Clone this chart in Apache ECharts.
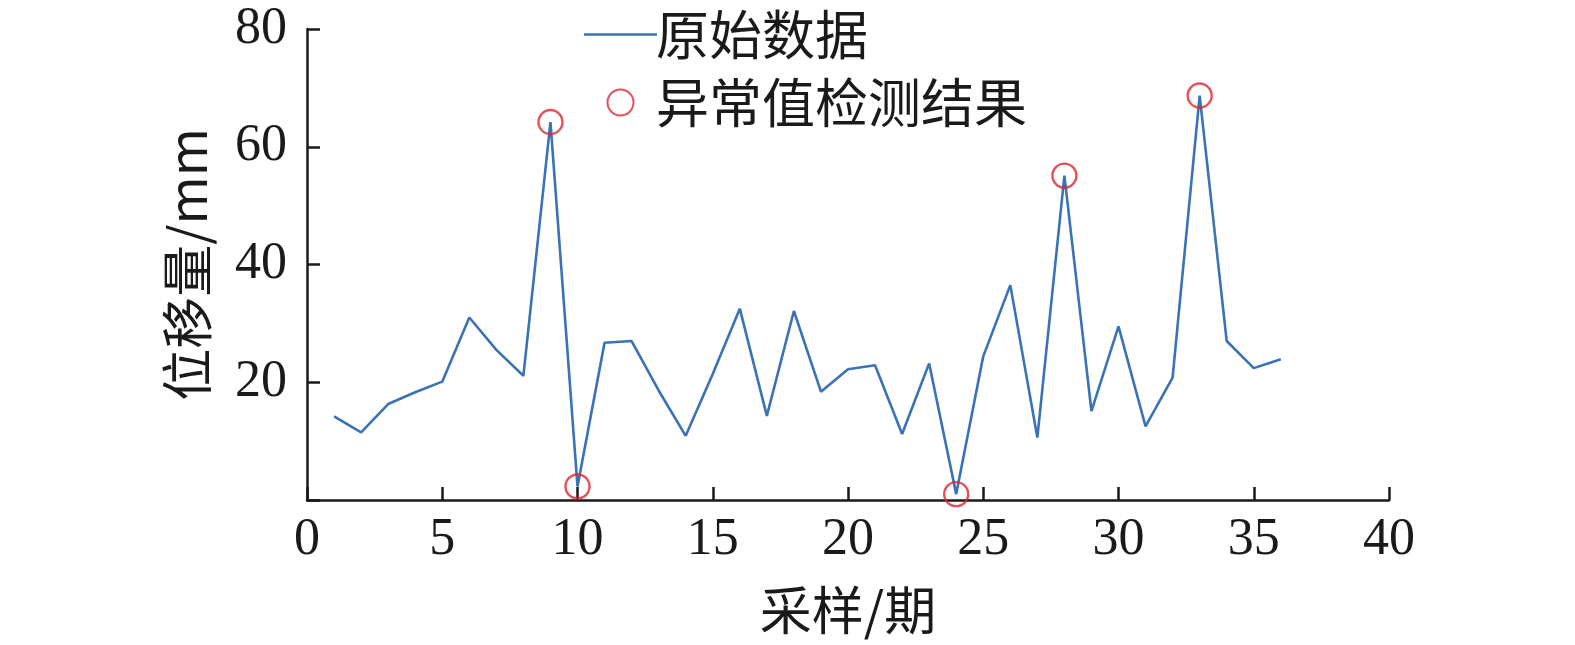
<!DOCTYPE html>
<html>
<head>
<meta charset="utf-8">
<script src="https://cdn.jsdelivr.net/npm/echarts@6/dist/echarts.min.js"></script>
<style>html,body{margin:0;padding:0;background:#fff}#c{width:1575px;height:645px}</style>
</head>
<body>
<div id="c"></div>
<script>
// Data
const samples = [1,2,3,4,5,6,7,8,9,10,11,12,13,14,15,16,17,18,19,20,21,22,23,24,25,26,27,28,29,30,31,32,33,34,35,36];
const displacement = [14.2,11.5,16.3,18.3,20.1,31.0,25.5,21.1,64.2,2.3,26.7,27.0,18.6,10.9,21.4,32.5,14.3,32.1,18.4,22.2,22.9,11.2,23.2,1.0,24.4,36.5,10.6,55.1,15.1,29.5,12.5,20.8,68.7,27.0,22.4,23.9];
const anomalySamples = [9,10,24,28,33];
const anomalyValues = [64.2,2.3,1.0,55.1,68.7];
const xTicks = [0,5,10,15,20,25,30,35,40];
const yTicks = [0,20,40,60,80];
const seriesNames = ['原始数据','异常值检测结果'];
const axisNames = {x:'采样/期', y:'位移量/mm'};

const lineData = samples.map((s,i)=>[s, displacement[i]]);
const anomalyData = anomalySamples.map((s,i)=>[s, anomalyValues[i]]);

const numFont = '"Liberation Serif", "Noto Sans CJK SC", serif';
const cjkFont = '"Noto Sans CJK SC", "Liberation Serif", serif';
const ink = '#1a1a1a';
const blue = '#3a72b6';
const red = '#e0262f';

const chart = echarts.init(document.getElementById('c'), null, {renderer:'canvas'});
chart.setOption({
  animation:false,
  backgroundColor:'#fff',
  grid:{left:307, right:186, top:29, bottom:145, containLabel:false},
  legend:{
    left:579, top:3, orient:'vertical',
    itemWidth:73, itemHeight:26, itemGap:15,
    textStyle:{fontFamily:cjkFont, fontSize:53, color:ink, padding:[0,0,0,-6]},
    data:[{name:seriesNames[0], icon:'path://M0,0L73,0L73,2.6L0,2.6Z'},{name:seriesNames[1]}]
  },
  xAxis:{
    type:'value', min:xTicks[0], max:xTicks[xTicks.length-1], interval:xTicks[1]-xTicks[0],
    name:axisNames.x, nameLocation:'middle', nameGap:84,
    nameTextStyle:{fontFamily:cjkFont, fontSize:52, color:ink},
    axisLine:{show:true, onZero:false, lineStyle:{color:ink, width:2.5}},
    axisTick:{show:true, inside:true, length:13, lineStyle:{color:ink, width:2.5}},
    axisLabel:{fontFamily:numFont, fontSize:52, color:ink, margin:14},
    splitLine:{show:false}
  },
  yAxis:{
    type:'value', min:yTicks[0], max:yTicks[yTicks.length-1], interval:yTicks[1]-yTicks[0],
    name:axisNames.y, nameLocation:'middle', nameGap:94,
    nameTextStyle:{fontFamily:cjkFont, fontSize:52, color:ink},
    axisLine:{show:true, lineStyle:{color:ink, width:2.5}},
    axisTick:{show:true, inside:true, length:13, lineStyle:{color:ink, width:2.5}},
    axisLabel:{fontFamily:numFont, fontSize:52, color:ink, margin:20,
      formatter:v=> v===0 ? '' : String(v)},
    splitLine:{show:false}
  },
  series:[
    {
      name:seriesNames[0], type:'line', data:lineData,
      showSymbol:false, symbol:'none',
      lineStyle:{color:blue, width:2.6},
      itemStyle:{color:blue}
    },
    {
      name:seriesNames[1], type:'scatter', data:anomalyData,
      symbol:'circle', symbolSize:24,
      itemStyle:{color:'rgba(0,0,0,0)', borderColor:red, borderWidth:2.4},
      z:3
    }
  ]
});
</script>
</body>
</html>
